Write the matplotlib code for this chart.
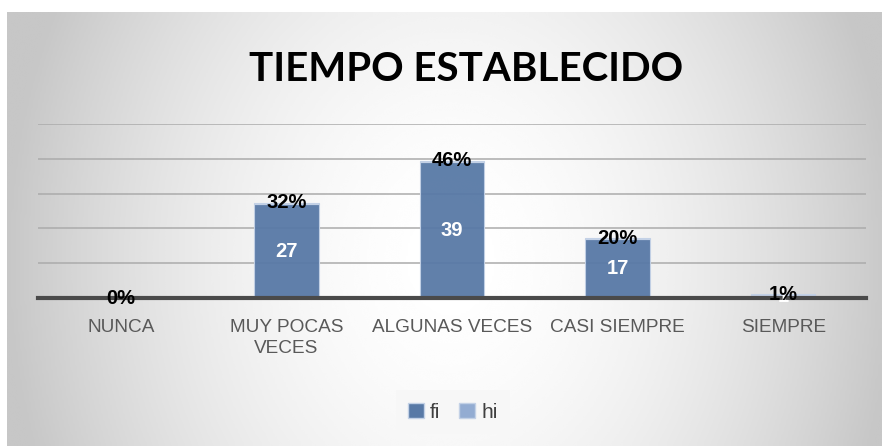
import numpy as np
import matplotlib
matplotlib.use("Agg")
import matplotlib.pyplot as plt
from matplotlib.patches import Patch

# Data
categories = ["NUNCA", "MUY POCAS\nVECES", "ALGUNAS VECES", "CASI SIEMPRE", "SIEMPRE"]
fi = [0, 27, 39, 17, 1]
hi = [0.00, 0.32, 0.46, 0.20, 0.01]
hi_labels = ["0%", "32%", "46%", "20%", "1%"]

c_fi = "#5879a6"
c_hi = "#93acd2"
sans = ["Liberation Sans", "DejaVu Sans"]

W, H = 882, 446
fig = plt.figure(figsize=(W / 100, H / 100), dpi=100)
fig.patch.set_facecolor("white")

# radial grey background of the chart area
bg = fig.add_axes([7 / W, 0, (W - 7) / W, (H - 12) / H], zorder=-10)
xx, yy = np.meshgrid(np.linspace(7, W, 400), np.linspace(12, H, 200))
d = np.sqrt(((xx - 451) / 445) ** 2 + ((yy - 260) / 560) ** 2)
shade = 1 - 0.22 * np.clip(d, 0, 1) ** 1.8
bg.imshow(shade, cmap="gray", vmin=0, vmax=1, aspect="auto",
          extent=[0, 1, 0, 1], interpolation="bicubic")
bg.set_axis_off()

# plot area
ax = fig.add_axes([38 / W, (H - 298) / H, (866 - 38) / W, (298 - 124) / H])
ax.patch.set_alpha(0)
x = np.arange(len(categories))
width = 0.39

ax.bar(x, fi, width, color=c_fi, alpha=0.95, edgecolor="#c3d1e6",
       linewidth=0.8, zorder=3, label="fi")
ax.bar(x, hi, width, bottom=fi, color=c_hi, edgecolor="#c3d1e6",
       linewidth=0.8, zorder=3, label="hi")

ax.set_xlim(-0.5, len(categories) - 0.5)
ax.set_ylim(0, 50)
ax.set_yticks([10, 20, 30, 40, 50])
ax.yaxis.grid(True, color="#ababab", linewidth=1.1, zorder=1)
ax.set_axisbelow(True)
ax.tick_params(axis="y", left=False, labelleft=False)
ax.axhline(0, color="#4a4a4a", linewidth=3, zorder=4, clip_on=False)
for s in ax.spines.values():
    s.set_visible(False)

ax.set_xticks(x)
ax.set_xticklabels(categories, fontsize=13.7, color="#595959",
                   family=sans, linespacing=1.35)
ax.tick_params(axis="x", length=0, pad=15)

# data labels
for i in range(len(categories)):
    if fi[i] > 0:
        ax.text(x[i], fi[i] / 2, str(fi[i]), ha="center", va="center",
                color="white", fontsize=14.5, fontweight="bold",
                family=sans, zorder=5)
    ax.text(x[i], fi[i] + hi[i], hi_labels[i], ha="center", va="center",
            color="black", fontsize=14.5, fontweight="bold",
            family=sans, zorder=6, clip_on=False)

# title
fig.text(466 / W, 1 - 81 / H, "TIEMPO ESTABLECIDO", ha="center", va="baseline",
         fontsize=29, fontweight="bold", family=["Lato", "DejaVu Sans"])

# legend
handles = [Patch(facecolor=c_fi, edgecolor="#c3d1e6"),
           Patch(facecolor=c_hi, edgecolor="#c3d1e6")]
leg = fig.legend(handles, ["fi", "hi"], loc="center", bbox_to_anchor=(453 / W, 1 - 412 / H),
                 ncol=2, frameon=True, fancybox=False, handlelength=0.75, handleheight=0.75,
                 handletextpad=0.3, columnspacing=0.9,
                 prop={"family": sans, "size": 15}, borderpad=0.6)
leg.get_frame().set_facecolor("#f7f7f7")
leg.get_frame().set_edgecolor("none")
for t in leg.get_texts():
    t.set_color("#404040")

fig.savefig("out.png", dpi=100)
